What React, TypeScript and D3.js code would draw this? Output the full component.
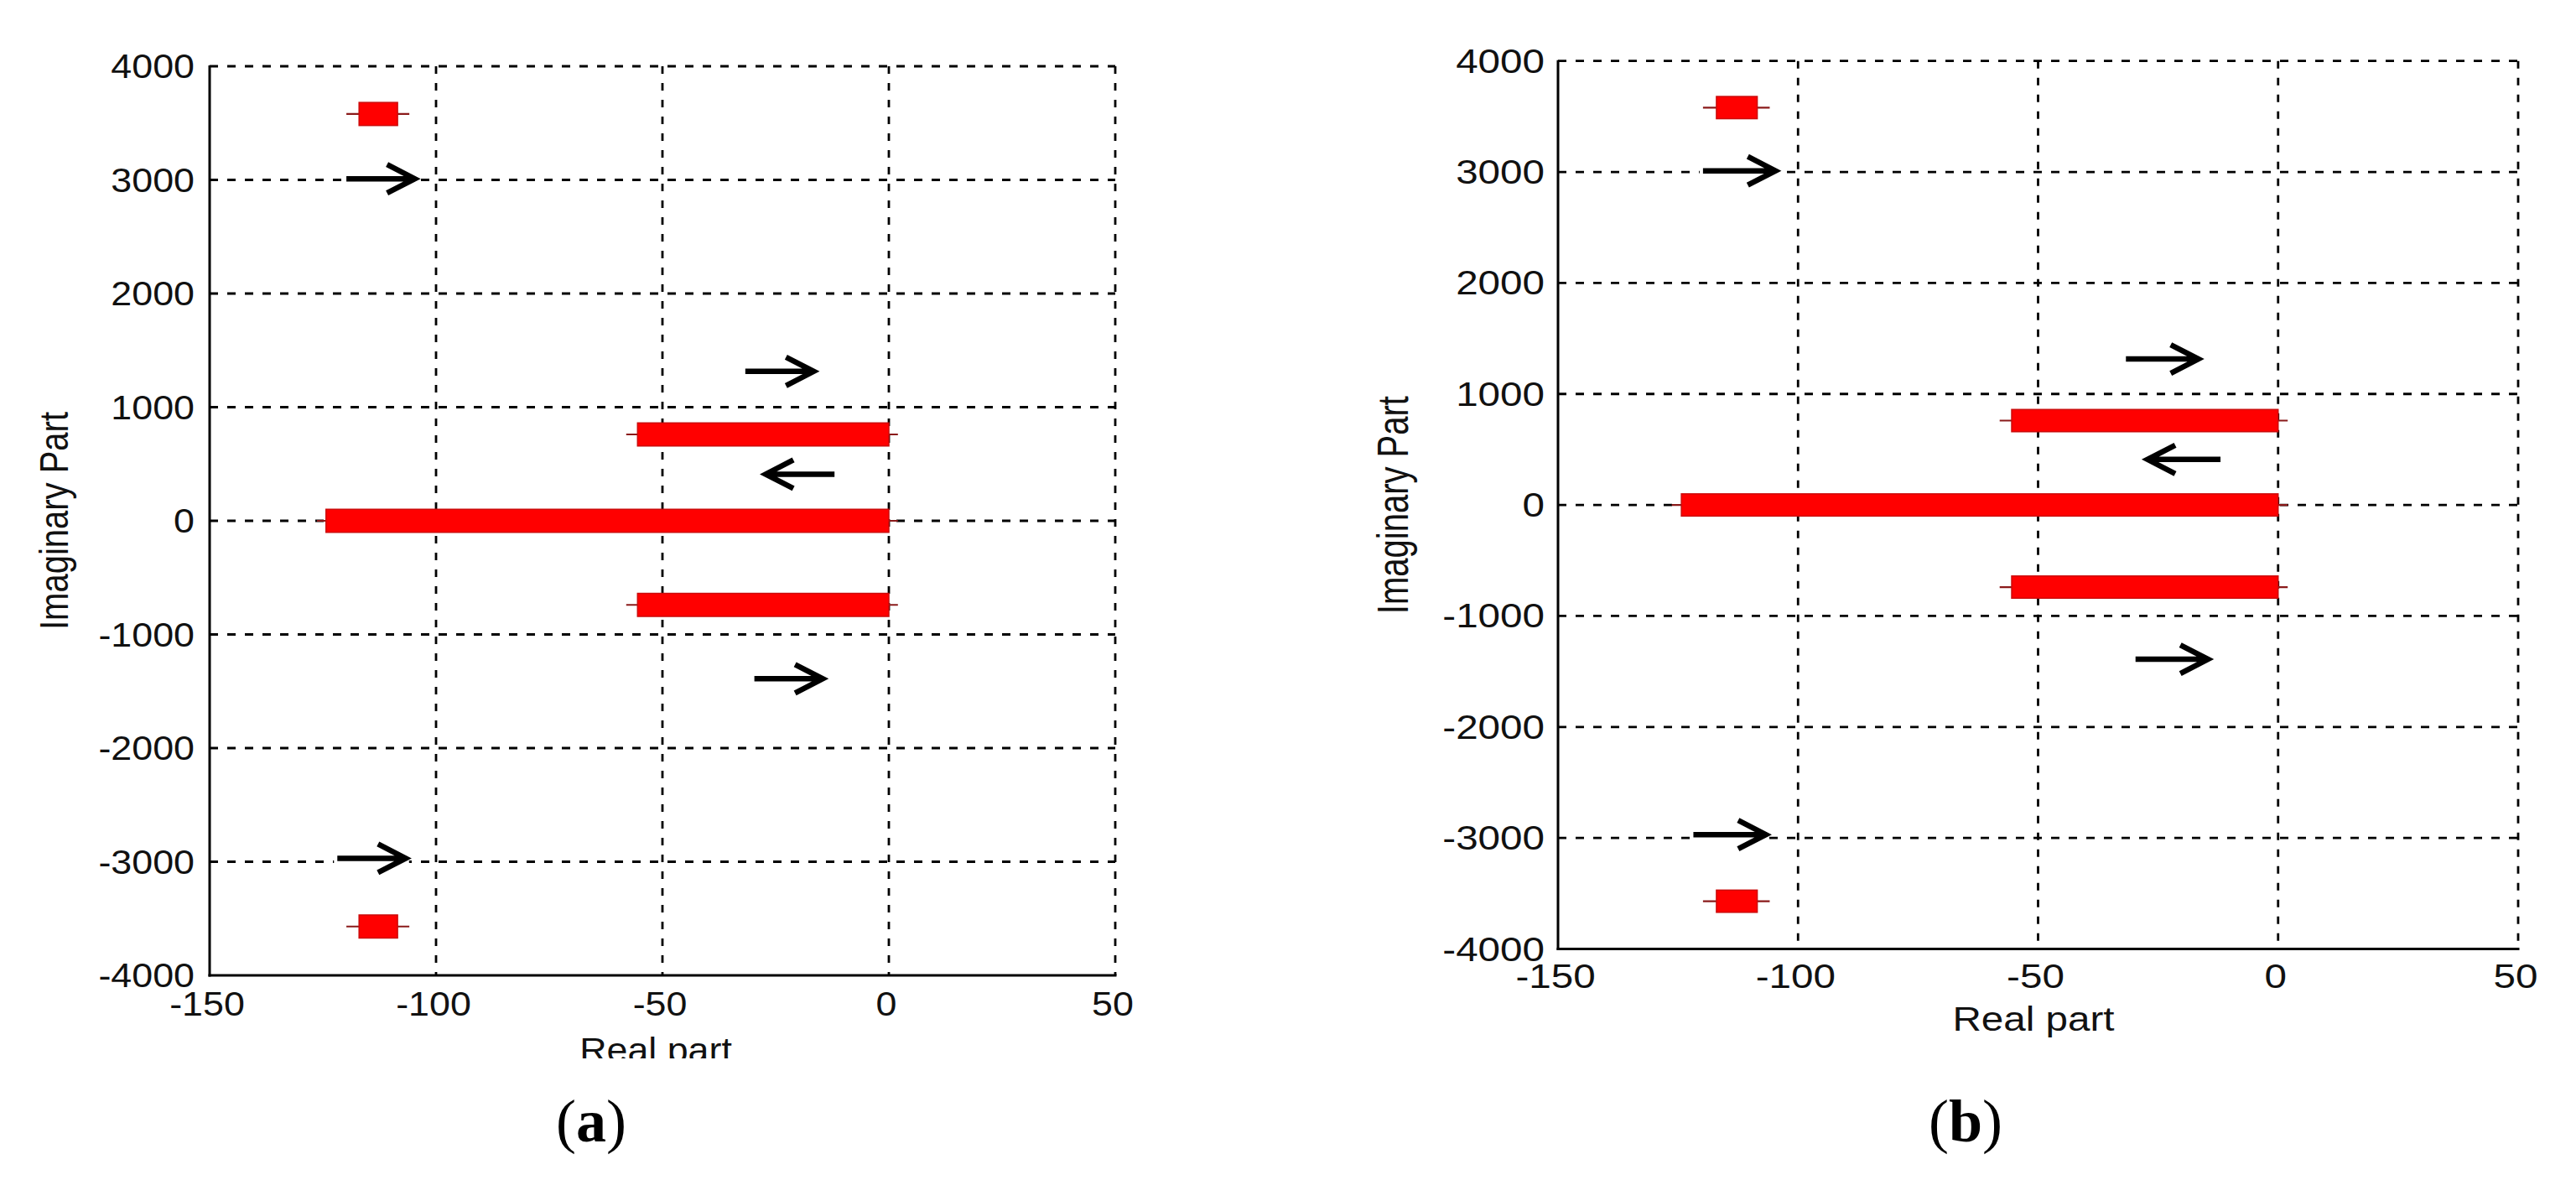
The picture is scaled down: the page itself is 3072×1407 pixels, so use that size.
import React, { useEffect, useRef } from "react";
import * as d3 from "d3";

// Root locus style plot: real part vs imaginary part, two panels (a) and (b).
// Both panels show the same branches, only the rendering of the figure differs.
const X_TICKS = [-150, -100, -50, 0, 50];
const Y_TICKS = [-4000, -3000, -2000, -1000, 0, 1000, 2000, 3000, 4000];

// Thick red segments (eigenvalue branches) with thin end whiskers
const BRANCH_IMAG = [3580, 760, 0, -740, -3570];
const BRANCH_START = [-117, -55.5, -124.3, -55.5, -117];
const BRANCH_END = [-108.5, 0, 0, 0, -108.5];
const WHISKER_LO = [-119.8, -58, -126.3, -58, -119.8];
const WHISKER_HI = [-105.9, 2, 2, 2, -105.9];

// Direction arrows
const ARROW_IMAG = [3010, 1315, 410, -1390, -2970];
const ARROW_FROM = [-119.8, -31.7, -12, -29.7, -121.8];
const ARROW_TO = [-104.7, -16.6, -27.2, -14.6, -106.7];

const PANEL_NAMES = ["a", "b"];

const PANELS = [
  {
    left: 250, right: 1330, top: 79, bottom: 1163,
    sx: 1.12, labelSy: 1.2, barH: 27.5,
    yTickRight: 232, xTickBase: 1211, yLabelX: 81, xLabelX: 782, xLabelBase: 1266,
    clipBelow: 1262, captionX: 705,
  },
  {
    left: 1858, right: 3003, top: 72.7, bottom: 1131.5,
    sx: 1.19, labelSy: 1.28, barH: 26.5,
    yTickRight: 1842, xTickBase: 1178, yLabelX: 1679, xLabelX: 2425, xLabelBase: 1229,
    clipBelow: null, captionX: 2344,
  },
];

const SANS = "'Liberation Sans', Arial, sans-serif";
const SERIF = "'Liberation Serif', 'Times New Roman', serif";

export default function App() {
  const svgRef = useRef<SVGSVGElement | null>(null);

  useEffect(() => {
    const svg = d3.select(svgRef.current);
    svg.selectAll("*").remove();

    const branches = BRANCH_IMAG.map((im, i) => ({
      im, x0: BRANCH_START[i], x1: BRANCH_END[i], w0: WHISKER_LO[i], w1: WHISKER_HI[i],
    }));
    const arrows = ARROW_IMAG.map((im, i) => ({ im, from: ARROW_FROM[i], to: ARROW_TO[i] }));

    PANELS.forEach((p, pi) => {
      const x = d3.scaleLinear().domain([-150, 50]).range([p.left, p.right]);
      const y = d3.scaleLinear().domain([-4000, 4000]).range([p.bottom, p.top]);
      const g = svg.append("g");

      // Grid lines
      g.selectAll(".gx")
        .data(X_TICKS.filter(d => d > -150))
        .join("line")
        .attr("x1", d => x(d)).attr("x2", d => x(d))
        .attr("y1", y(4000)).attr("y2", y(-4000))
        .attr("stroke", "#000").attr("stroke-width", 2.8)
        .attr("stroke-dasharray", "9,11");

      g.selectAll(".gy")
        .data(Y_TICKS.filter(d => d > -4000))
        .join("line")
        .attr("x1", x(-150)).attr("x2", x(50))
        .attr("y1", d => y(d)).attr("y2", d => y(d))
        .attr("stroke", "#000").attr("stroke-width", 2.8)
        .attr("stroke-dasharray", "10,11");

      // Axes (left and bottom only)
      g.append("line")
        .attr("x1", x(-150)).attr("x2", x(-150))
        .attr("y1", y(4000) - 1).attr("y2", y(-4000) + 1.5)
        .attr("stroke", "#000").attr("stroke-width", 3);
      g.append("line")
        .attr("x1", x(-150) - 1.5).attr("x2", x(50) + 1.5)
        .attr("y1", y(-4000)).attr("y2", y(-4000))
        .attr("stroke", "#000").attr("stroke-width", 3);

      // Whiskers
      g.selectAll(".wh")
        .data(branches)
        .join("line")
        .attr("x1", d => x(d.w0)).attr("x2", d => x(d.w1))
        .attr("y1", d => y(d.im)).attr("y2", d => y(d.im))
        .attr("stroke", "#8a1a1a").attr("stroke-width", 2.2);

      // Branches
      g.selectAll(".br")
        .data(branches)
        .join("rect")
        .attr("x", d => x(d.x0))
        .attr("width", d => x(d.x1) - x(d.x0))
        .attr("y", d => y(d.im) - p.barH / 2)
        .attr("height", p.barH)
        .attr("fill", "#ff0000")
        .attr("stroke", "#cc0a0a").attr("stroke-width", 1.5);

      // Arrows, pasted on a white patch that hides the grid under them
      const headLen = 33;
      const headHalf = 17;
      g.selectAll(".arbg")
        .data(arrows)
        .join("rect")
        .attr("x", d => Math.min(x(d.from), x(d.to)) - 4)
        .attr("width", d => Math.abs(x(d.to) - x(d.from)) + 8)
        .attr("y", d => y(d.im) - headHalf - 4)
        .attr("height", 2 * headHalf + 8)
        .attr("fill", "#fff");

      g.selectAll(".ar")
        .data(arrows)
        .join("path")
        .attr("d", d => {
          const xf = x(d.from), xt = x(d.to), yy = y(d.im);
          const dir = Math.sign(xt - xf);
          return `M${xf},${yy}L${xt},${yy}` +
            `M${xt - dir * headLen},${yy - headHalf}L${xt},${yy}L${xt - dir * headLen},${yy + headHalf}`;
        })
        .attr("fill", "none")
        .attr("stroke", "#000").attr("stroke-width", 6.5)
        .attr("stroke-linejoin", "miter").attr("stroke-linecap", "butt");

      // Tick labels
      g.selectAll(".yt")
        .data(Y_TICKS)
        .join("text")
        .attr("transform", d => `translate(${p.yTickRight},${y(d) + 14}) scale(${p.sx},1)`)
        .attr("text-anchor", "end")
        .attr("font-family", SANS).attr("font-size", 40).attr("fill", "#111")
        .text(d => d);

      g.selectAll(".xt")
        .data(X_TICKS)
        .join("text")
        .attr("transform", d => `translate(${x(d) - 3},${p.xTickBase}) scale(${p.sx},1)`)
        .attr("text-anchor", "middle")
        .attr("font-family", SANS).attr("font-size", 40).attr("fill", "#111")
        .text(d => d);

      // Axis titles
      g.append("text")
        .attr("transform", `translate(${p.yLabelX},${(y(4000) + y(-4000)) / 2}) rotate(-90) scale(1,${p.labelSy})`)
        .attr("text-anchor", "middle")
        .attr("font-family", SANS).attr("font-size", 40).attr("fill", "#111")
        .text("Imaginary Part");

      const xl = g.append("text")
        .attr("transform", `translate(${p.xLabelX},${p.xLabelBase}) scale(${p.sx},1)`)
        .attr("text-anchor", "middle")
        .attr("font-family", SANS).attr("font-size", 40).attr("fill", "#111")
        .text("Real part");
      if (p.clipBelow != null) {
        const id = `clip-xl-${pi}`;
        svg.append("defs").append("clipPath").attr("id", id)
          .attr("clipPathUnits", "userSpaceOnUse")
          .append("rect")
          .attr("x", -400).attr("y", -100).attr("width", 800)
          .attr("height", 100 - (p.xLabelBase - p.clipBelow));
        xl.attr("clip-path", `url(#${id})`);
      }

      // Caption
      const cap = g.append("text")
        .attr("x", p.captionX).attr("y", 1361)
        .attr("text-anchor", "middle")
        .attr("font-family", SERIF).attr("font-size", 72).attr("fill", "#000");
      cap.append("tspan").text("(");
      cap.append("tspan").attr("font-weight", 700).text(PANEL_NAMES[pi]);
      cap.append("tspan").text(")");
    });
  }, []);

  return (
    <svg
      ref={svgRef}
      width={3072}
      height={1407}
      style={{ position: "absolute", left: 0, top: 0, display: "block", background: "#fff" }}
    />
  );
}
